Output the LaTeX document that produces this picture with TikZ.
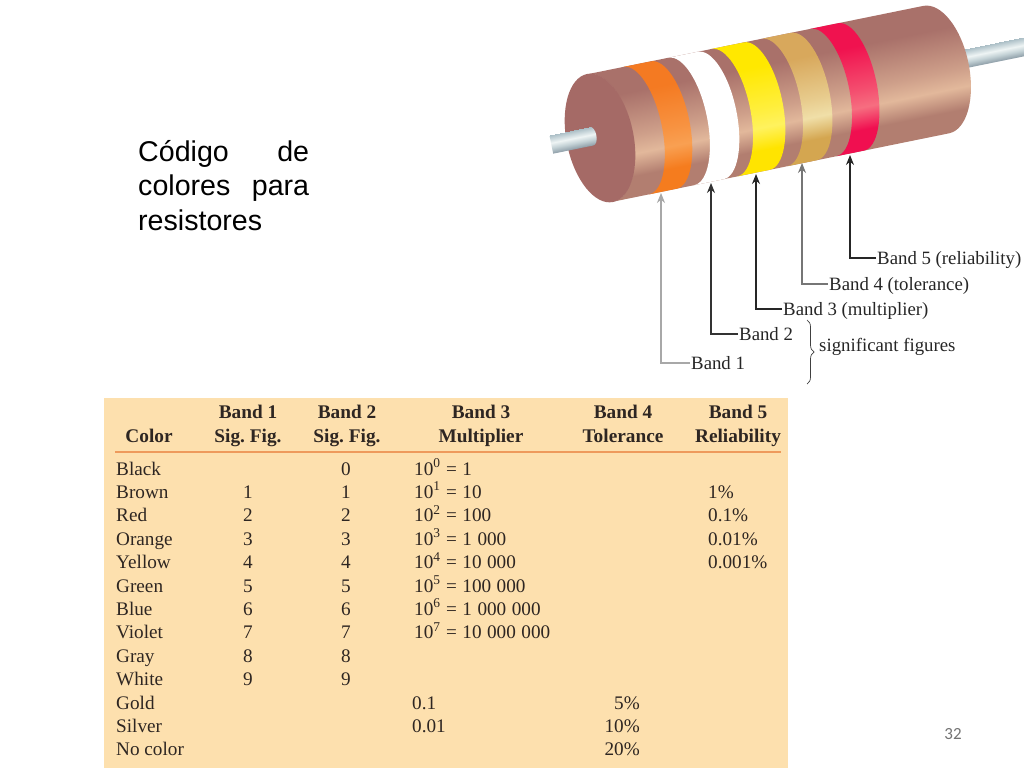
\documentclass[tikz,border=0pt]{standalone}
\usepackage{fontspec}
\setmainfont{Liberation Serif}
\newfontfamily\slidefont{Liberation Sans}
\newfontfamily\numfont{Carlito}
\usetikzlibrary{arrows.meta, decorations.pathreplacing}

\definecolor{tablebg}{HTML}{FDE0AE}
\definecolor{tablerule}{HTML}{EE9A5C}
\definecolor{tableink}{HTML}{2E2622}
\definecolor{facebrown}{HTML}{A56A66}
\definecolor{arrowgray}{HTML}{A8A8A8}
\definecolor{leadA}{HTML}{8C9CA6}
\definecolor{leadB}{HTML}{C4D2D6}
\definecolor{leadC}{HTML}{EEF4F4}
\definecolor{leadD}{HTML}{A8BCC4}

% dark edge, highlight and lower edge of one painted ring
\newcommand{\cylshade}[4]{%
  \definecolor{#1top}{HTML}{#2}\definecolor{#1mid}{HTML}{#3}\definecolor{#1low}{HTML}{#4}%
  \pgfdeclareverticalshading{#1}{520bp}{color(0bp)=(#1low); color(22bp)=(#1low); color(44bp)=(#1mid); color(62bp)=(#1mid!65!#1top); color(105bp)=(#1top); color(132bp)=(#1top)}}
\cylshade{shadebrown}{A9716A}{E2B89B}{B27E70}
\cylshade{shadewhite}{FFFFFF}{FFFFFF}{FFFFFF}
\cylshade{shadeorange}{F47A22}{F9A052}{F57C1E}
\cylshade{shadeyellow}{FFE800}{FFF25E}{FFE400}
\cylshade{shadegold}{D8A85C}{F0DFA8}{D4A650}
\cylshade{shadered}{F0124F}{F66E80}{F00F50}
\pgfdeclareverticalshading{shadelead}{120bp}{color(0bp)=(leadA); color(6bp)=(leadB); color(11bp)=(leadC); color(19bp)=(leadD)}

\newcommand{\band}[4][26]{%
  \begin{scope}
    \clip (#2,65) arc[start angle=90,end angle=-90,x radius=#1,y radius=65]
      -- (#3,-65) arc[start angle=-90,end angle=90,x radius=#1,y radius=65] -- cycle;
    \node[cylfill] at (170,0) {\pgfuseshading{#4}};
  \end{scope}}
\newcommand{\tenpow}[2]{10\textsuperscript{#1}\hspace{5.5pt}=\hspace{5.5pt}#2}
\newcommand{\gap}{\hspace{5.5pt}}

\tikzset{
  cylfill/.style={transform shape, inner sep=0, outer sep=0},
  bandlabel/.style={anchor=west, inner sep=1pt, text height=14pt, text depth=2pt, font=\fontsize{18.8}{20}\selectfont, text=black!85},
  bandarrow/.style={-{Stealth[length=10pt,width=8pt]}, line width=1.1pt},
  headtext/.style={anchor=base, inner sep=0, font=\fontsize{19.3}{20}\selectfont\bfseries, text=tableink},
  rowtext/.style={inner sep=0, font=\fontsize{19.2}{20}\selectfont, text=tableink},
}

\begin{document}
\begin{tikzpicture}[x=1pt, y=1pt]
  \path[use as bounding box, fill=white] (0,0) rectangle (1024,-768);

  % heading
  \node[anchor=north west, inner sep=0, text width=171pt, align=justify, font=\slidefont\fontsize{28.6}{34.5}\selectfont] (heading) at (138,-140)
    {C\'odigo de colores para resistores};
  \node[inner sep=0, text=black!55, font=\numfont\fontsize{17}{18}\selectfont] (pagenum) at (953,-734) {32};

  % resistor
  \begin{scope}[shift={(600,-138)}, rotate=11.5]
    \begin{scope}
      \clip (370,-4.5) rectangle (450,14.5);
      \node[cylfill] at (400,5) {\pgfuseshading{shadelead}};
    \end{scope}
    \band[33]{0}{343}{shadebrown}
    \band{37}{65}{shadeorange}
    \band{83}{113}{shadewhite}
    \band{127}{160}{shadeyellow}
    \band{178}{208}{shadegold}
    \band{228}{256}{shadered}
    \fill[facebrown] (0,0) ellipse[x radius=33.5, y radius=65.3];
    \begin{scope}
      \clip (-49,-6) -- (-8,-6) arc[start angle=-90,end angle=90,x radius=5,y radius=9.5] -- (-49,13) -- cycle;
      \node[cylfill] at (0,3.5) {\pgfuseshading{shadelead}};
    \end{scope}
  \end{scope}

  % labels and arrows
  \coordinate (tip1) at (661,-193);
  \coordinate (tip2) at (711,-183);
  \coordinate (tip3) at (756,-174);
  \coordinate (tip4) at (802,-163);
  \coordinate (tip5) at (850,-155);
  \node[bandlabel] (band1) at (690,-363) {Band 1};
  \node[bandlabel] (band2) at (738,-334) {Band 2};
  \node[bandlabel] (band3) at (782,-309) {Band 3 (multiplier)};
  \node[bandlabel] (band4) at (828,-284) {Band 4 (tolerance)};
  \node[bandlabel] (band5) at (876,-258) {Band 5 (reliability)};
  \draw[bandarrow, arrowgray] (band1.west) -| (tip1);
  \draw[bandarrow, black!80] (band2.west) -| (tip2);
  \draw[bandarrow, black!85] (band3.west) -| (tip3);
  \draw[bandarrow, arrowgray!70!black] (band4.west) -| (tip4);
  \draw[bandarrow, black!85] (band5.west) -| (tip5);
  \coordinate (bracetop) at (807,-320);
  \coordinate (bracebot) at (807,-384);
  \draw[black!75, line width=.7pt, decorate, decoration={brace, amplitude=7pt}] (bracetop) -- (bracebot);
  \node[bandlabel] (sigfig) at (818,-345) {significant figures};

  % table
  \fill[tablebg] (104,-398) rectangle (788,-768);
  \draw[tablerule, line width=2.4pt] (115,-452) -- (781,-452);
  \foreach \x/\t in {248/Band 1, 347/Band 2, 481/Band 3, 623/Band 4, 738/Band 5}
    \node[headtext] (top\x) at (\x,-418) {\t};
  \foreach \x/\t in {149/Color, 248/Sig.\ Fig., 347/Sig.\ Fig., 481/Multiplier, 623/Tolerance, 738/Reliability}
    \node[headtext] (sub\x) at (\x,-442) {\t};
  \foreach \t [count=\i from 0] in {Black,Brown,Red,Orange,Yellow,Green,Blue,Violet,Gray,White,Gold,Silver,No color}
    \node[rowtext, anchor=base west] (color\i) at (116,{-475-23.4*\i}) {\t};
  \foreach \i in {1,...,9}
    \node[rowtext, anchor=base] (first\i) at (248,{-475-23.4*\i}) {\i};
  \foreach \i in {0,...,9}
    \node[rowtext, anchor=base] (second\i) at (346,{-475-23.4*\i}) {\i};
  \foreach \i/\t in {0/1, 1/10, 2/100, 3/1\gap000, 4/10\gap000, 5/100\gap000, 6/1\gap000\gap000, 7/10\gap000\gap000}
    \node[rowtext, anchor=base west] (mult\i) at (414,{-475-23.4*\i}) {\tenpow{\i}{\t}};
  \foreach \i/\t in {10/0.1, 11/0.01}
    \node[rowtext, anchor=base west] (mult\i) at (412,{-475-23.4*\i}) {\t};
  \foreach \i/\t in {10/5, 11/10, 12/20}
    \node[rowtext, anchor=base east] (tol\i) at (640,{-475-23.4*\i}) {\t\%};
  \foreach \i/\t in {1/1, 2/0.1, 3/0.01, 4/0.001}
    \node[rowtext, anchor=base west] (rel\i) at (708,{-475-23.4*\i}) {\t\%};
\end{tikzpicture}
\end{document}
